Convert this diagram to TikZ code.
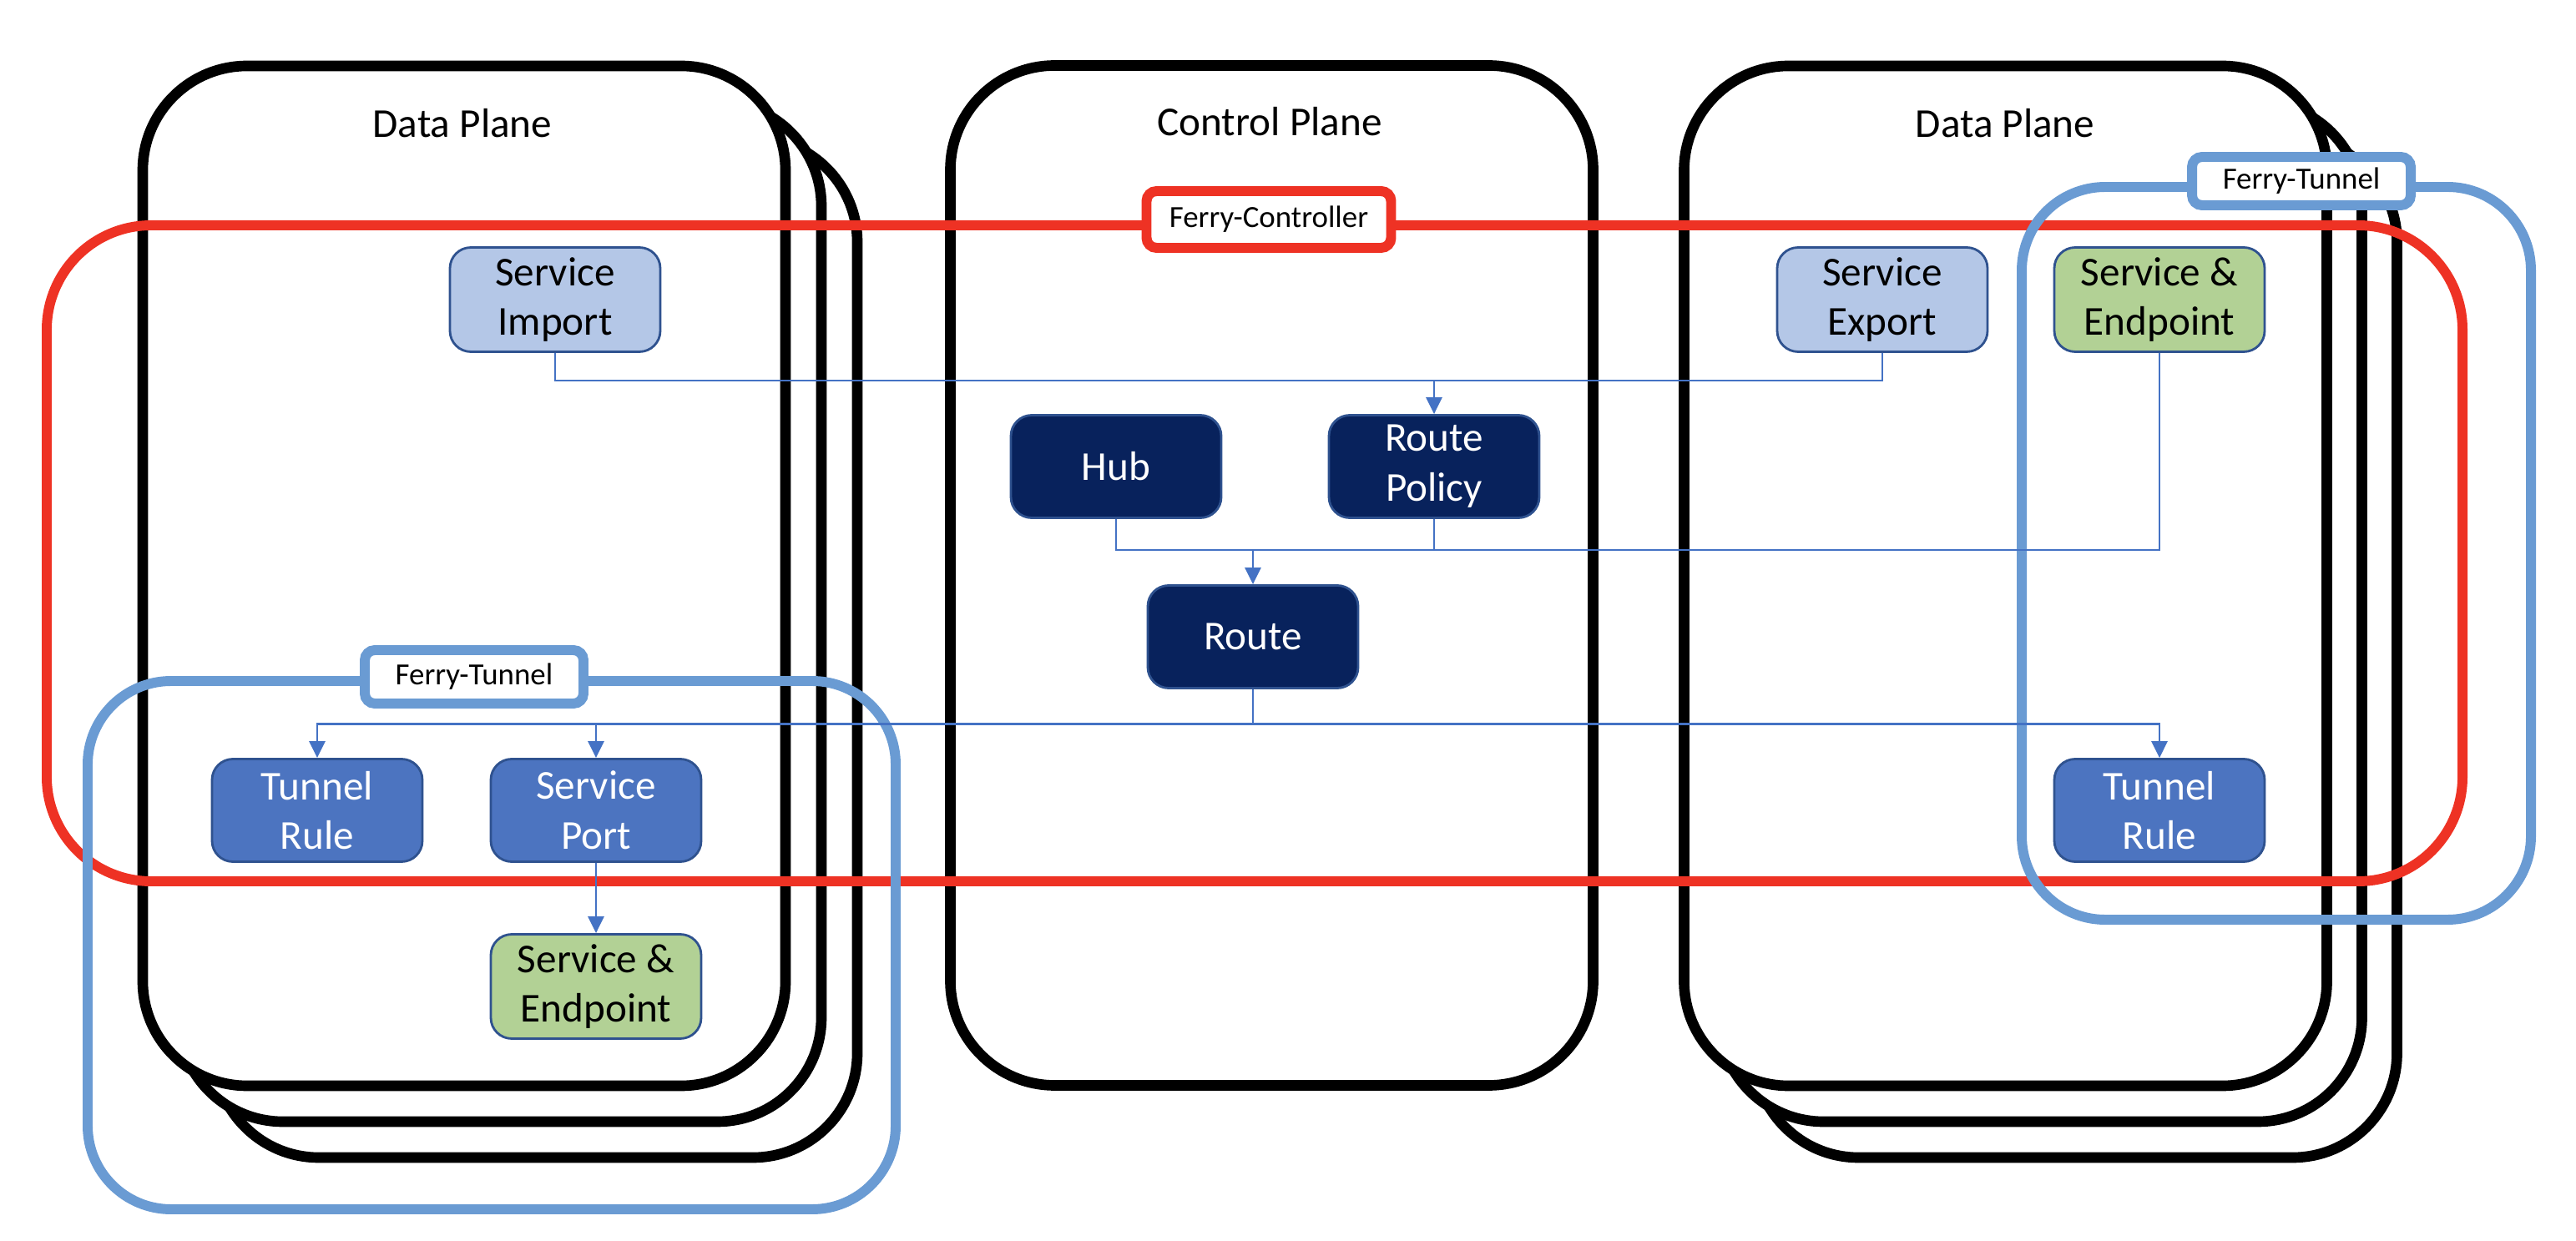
\documentclass[tikz,border=0pt]{standalone}
\usepackage{fontspec}
\setmainfont{Carlito}
\usepackage{xcolor}
\usepackage{tikz}
\usetikzlibrary{arrows.meta, positioning, calc}
\definecolor{ferryred}{RGB}{238,50,36}
\definecolor{tunnelblue}{RGB}{106,155,211}
\definecolor{linkblue}{RGB}{68,114,196}
\definecolor{importcolor}{RGB}{180,199,231}
\definecolor{endpointcolor}{RGB}{178,209,149}
\definecolor{rulecolor}{RGB}{76,116,192}
\definecolor{hubcolor}{RGB}{8,34,92}
\definecolor{edgecolor}{RGB}{47,82,143}

\begin{document}
\begin{tikzpicture}[
    plane/.style={draw, line width=3.6pt, fill=white, rounded corners=1.25cm, minimum width=7.7cm, minimum height=12.22cm},
    planetitle/.style={font=\fontsize{14}{17}\selectfont},
    crd/.style={draw=edgecolor, line width=0.8pt, rounded corners=0.25cm, minimum width=2.52cm, minimum height=1.23cm, align=center, font=\fontsize{14}{17}\selectfont},
    svcimport/.style={crd, fill=importcolor},
    svcendpoint/.style={crd, fill=endpointcolor},
    tunnelrule/.style={crd, fill=rulecolor, text=white},
    ctrlnode/.style={crd, fill=hubcolor, text=white},
    ferryframe/.style={line width=3.4pt, rounded corners=1cm},
    tag/.style={fill=white, line width=3.4pt, rounded corners=0.12cm, minimum width=2.62cm, minimum height=0.64cm, font=\fontsize{10.5}{12}\selectfont},
    link/.style={draw=linkblue, line width=0.8pt},
    arrow/.style={link, -{Triangle[length=2mm, width=1.9mm]}}
]
    \useasboundingbox (0,0) rectangle (30.86,14.86);

    % Data Plane (left), stacked
    \node[plane] (dpleft3) at (6.42,7.10) {};
    \node[plane] (dpleft2) at (5.99,7.53) {};
    \node[plane] (dpleft) at (5.56,7.96) {};

    % Control Plane
    \node[plane] (cp) at (15.235,7.965) {};

    % Data Plane (right), stacked
    \node[plane] (dpright3) at (24.865,7.10) {};
    \node[plane] (dpright2) at (24.445,7.53) {};
    \node[plane] (dpright) at (24.025,7.96) {};

    % Titles
    \node[planetitle] (dplefttitle) at (5.54,13.38) {Data Plane};
    \node[planetitle] (cptitle) at (15.21,13.40) {Control Plane};
    \node[planetitle] (dprighttitle) at (24.02,13.38) {Data Plane};

    % Ferry frames
    \node[ferryframe, draw=ferryred, rounded corners=1.25cm, minimum width=28.94cm, minimum height=7.86cm] (ctrlframe) at (15.03,8.23) {};
    \node[ferryframe, draw=tunnelblue, minimum width=9.68cm, minimum height=6.33cm] (tunleft) at (5.89,3.535) {};
    \node[ferryframe, draw=tunnelblue, minimum width=6.10cm, minimum height=8.78cm] (tunright) at (27.27,8.23) {};

    \node[tag, draw=ferryred, minimum width=2.93cm, minimum height=0.68cm] (fctl) at (15.20,12.23) {Ferry-Controller};
    \node[tag, draw=tunnelblue] (ftunleft) at (5.68,6.75) {Ferry-Tunnel};
    \node[tag, draw=tunnelblue, minimum height=0.58cm] (ftunright) at (27.57,12.69) {Ferry-Tunnel};

    % Resources
    \node[svcimport] (simport) at (6.65,11.27) {Service\\Import};
    \node[svcimport] (sexport) at (22.55,11.27) {Service\\Export};
    \node[svcendpoint] (sepright) at (25.87,11.27) {Service \&\\Endpoint};

    \node[ctrlnode] (hub) at (13.37,9.27) {Hub};
    \node[ctrlnode] (rpolicy) at (17.18,9.27) {Route\\Policy};
    \node[ctrlnode] (route) at (15.01,7.23) {Route};

    \node[tunnelrule] (trleft) at (3.80,5.15) {Tunnel\\Rule};
    \node[tunnelrule] (sport) at (7.14,5.15) {Service\\Port};
    \node[svcendpoint] (sepleft) at (7.14,3.04) {Service \&\\Endpoint};
    \node[tunnelrule] (trright) at (25.87,5.15) {Tunnel\\Rule};

    % Junctions
    \coordinate (jimp) at ([yshift=0.4cm]rpolicy.north);
    \coordinate (jroute) at ([yshift=0.41cm]route.north);
    \coordinate (jtun) at ([yshift=-0.42cm]route.south);

    % Import / Export to Route Policy
    \draw[link] (simport.south) |- (jimp) -| (sexport.south);
    \draw[arrow] (jimp) -- (rpolicy.north);

    % Hub, Route Policy, Endpoint to Route
    \draw[link] (hub.south) |- (jroute) -| (sepright.south);
    \draw[link] (rpolicy.south) -- (rpolicy.south |- jroute);
    \draw[arrow] (jroute) -- (route.north);

    % Route to Tunnel Rules / Service Port
    \draw[link] (route.south) -- (jtun);
    \draw[arrow] (jtun) -| (trleft.north);
    \draw[arrow] (jtun) -| (trright.north);
    \draw[arrow] (sport.north |- jtun) -- (sport.north);
    \draw[arrow] (sport) -- (sepleft);
\end{tikzpicture}
\end{document}
